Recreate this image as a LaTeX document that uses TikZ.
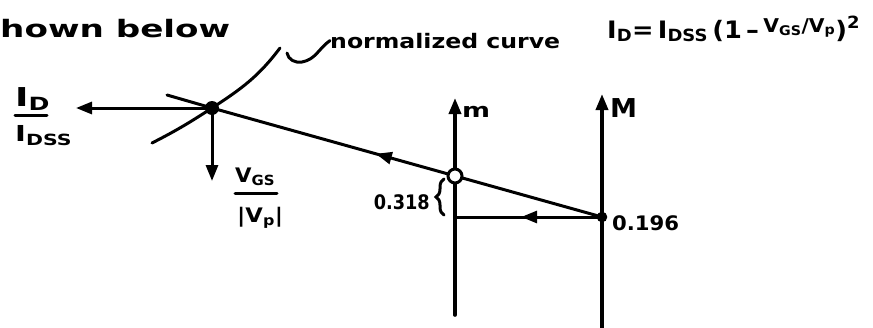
\documentclass[tikz,border=0pt]{standalone}
\usepackage{fontspec}
\usepackage{graphicx}
\usepackage{tikz}
\usetikzlibrary{arrows.meta,decorations.pathreplacing,decorations.markings}
\newfontfamily\hand{DejaVu Sans}
\newcommand{\scrawl}[2]{\resizebox{#1}{\height}{#2}}

\begin{document}
\begin{tikzpicture}[
    x=1pt, y=1pt,
    lbl/.style={inner sep=0pt, font=\hand\bfseries\fontsize{#1}{#1}\selectfont},
    lbl/.default=20,
    stroke/.style={line width=3pt, line cap=round},
    axis/.style={line width=3.6pt, line cap=round},
    tip/.style={-{Triangle[length=16pt,width=12pt]}},
    midarrow/.style={postaction={decorate}, decoration={markings, mark=at position #1 with {\arrow{Triangle[length=16pt,width=12pt]}}}}
]
    \useasboundingbox (0,0) rectangle (873,-327);

    \coordinate (dot) at (212,-108);
    \coordinate (lend) at (167,-95);
    \coordinate (cl) at (152,-143);
    \coordinate (cu) at (280,-48);
    \coordinate (idtip) at (76,-108);
    \coordinate (vtip) at (212,-181);
    \coordinate (mtop) at (455,-98);
    \coordinate (mbot) at (455,-315);
    \coordinate (Mtop) at (602,-94);
    \coordinate (Mbot) at (602,-330);
    \coordinate (mpt) at (455,-176);
    \coordinate (Mpt) at (602,-217);
    \coordinate (bt) at (444,-179);
    \coordinate (bb) at (444,-215);
    \coordinate (tl) at (287,-53);

    \node[lbl=24, anchor=base west] (hown) at (0,-37) {\scrawl{230pt}{hown below}};
    \node[lbl=20, anchor=base west] (ncurve) at (330,-48) {\scrawl{230pt}{normalized curve}};
    \node[lbl=24, anchor=base west] (eq) at (607,-38) {\scrawl{253pt}{I\textsubscript{D}=\,I\textsubscript{DSS}\,(1\,\textendash\,\raisebox{6pt}{\fontsize{19}{19}\selectfont V\textsubscript{GS}/V\textsubscript{p}})\textsuperscript{2}}};

    \node[lbl=26, anchor=base west] (id) at (15,-106) {\scrawl{35pt}{I\textsubscript{D}}};
    \node[lbl=22, anchor=base west] (idss) at (15,-141) {\scrawl{57pt}{I\textsubscript{DSS}}};
    \draw[stroke] (15,-115) -- (47,-115);

    \node[lbl=20, anchor=base west] (vgs) at (235,-182) {\scrawl{40pt}{V\textsubscript{GS}}};
    \node[lbl=20, anchor=base west] (vp) at (237,-222) {\scrawl{46pt}{|V\textsubscript{p}|}};
    \draw[stroke] (235,-193) -- (277,-193);

    \node[lbl=20, anchor=base east] (a318) at (430,-209) {\scrawl{56pt}{0.318}};
    \node[lbl=20, anchor=base west] (a196) at (612,-230) {\scrawl{67pt}{0.196}};
    \node[lbl=20, anchor=base west] (mlab) at (462,-117) {\scrawl{28pt}{m}};
    \node[lbl=26, anchor=base west] (Mlab) at (610,-117) {\scrawl{27pt}{M}};

    \draw[axis, tip] (mbot) -- (mtop);
    \draw[axis, tip] (Mbot) -- (Mtop);
    \draw[stroke, tip] (dot) -- (idtip);
    \draw[stroke, tip] (dot) -- (vtip);
    \draw[stroke] (cl) to[out=27,in=213] (dot) to[out=33,in=233] (cu);
    \draw[stroke] (tl) to[out=-80,in=190] (302,-62) to[out=10,in=215] (ncurve.west);
    \draw[stroke] (lend) -- (dot);
    \draw[stroke, midarrow=0.58] (Mpt) -- (dot);
    \draw[stroke, midarrow=0.55] (Mpt) -- (mpt |- Mpt);
    \draw[stroke, decorate, decoration={brace, amplitude=8pt}] (bb) -- (bt);

    \fill (dot) circle (7);
    \draw[line width=3pt, fill=white] (mpt) circle (7);
    \draw[line width=2.4pt, fill=black] (Mpt) circle (4);
\end{tikzpicture}
\end{document}
